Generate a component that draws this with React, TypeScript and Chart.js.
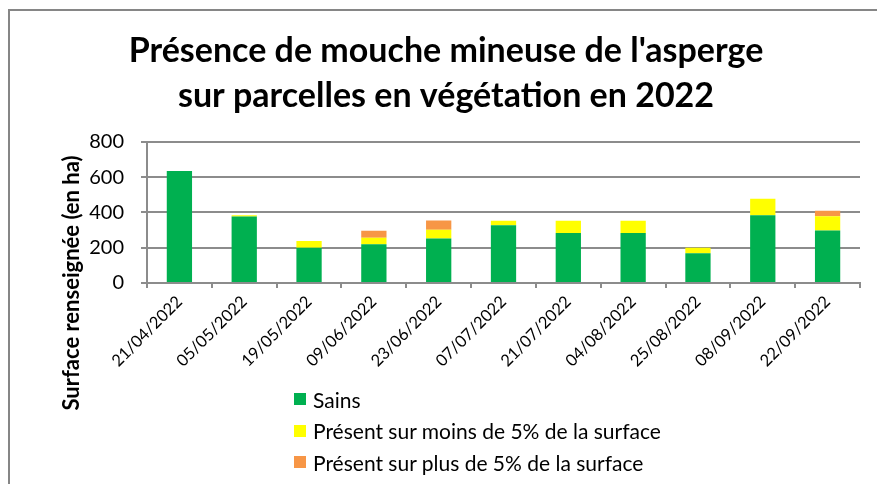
import React, { useEffect, useRef } from "react";
import { Chart, registerables } from "chart.js";
Chart.register(...registerables);

const categories = [
  "21/04/2022", "05/05/2022", "19/05/2022", "09/06/2022", "23/06/2022", "07/07/2022",
  "21/07/2022", "04/08/2022", "25/08/2022", "08/09/2022", "22/09/2022",
];
const sains = [635, 377, 200, 220, 252, 327, 283, 283, 169, 384, 297];
const moins5 = [0, 7, 38, 36, 50, 25, 69, 69, 31, 93, 81];
const plus5 = [0, 0, 0, 40, 52, 0, 0, 0, 0, 0, 31];
const yTicks = [0, 200, 400, 600, 800];
const seriesLabels = [
  "Sains",
  "Présent sur moins de 5% de la surface",
  "Présent sur plus de 5% de la surface",
];
const seriesColors = ["#00B050", "#FFFF00", "#F79646"];
const titleLines = ["Présence de mouche mineuse de l'asperge", "sur parcelles en végétation en 2022"];
const yTitle = "Surface renseignée (en ha)";

const FONT = "Lato, 'Open Sans', sans-serif";
const GRID = "#8c8c8c";

export default function App() {
  const ref = useRef<HTMLCanvasElement | null>(null);
  useEffect(() => {
    if (!ref.current) return;
    const yTitlePlugin = {
      id: "yTitle",
      afterDraw(chart: any) {
        const ctx = chart.ctx;
        ctx.save();
        ctx.translate(72, 283);
        ctx.rotate(-Math.PI / 2);
        ctx.font = `bold 22px ${FONT}`;
        ctx.fillStyle = "#000";
        ctx.textAlign = "center";
        ctx.textBaseline = "middle";
        ctx.fillText(yTitle, 0, 0);
        ctx.restore();
      },
    };
    const series = [sains, moins5, plus5];
    const chart = new Chart(ref.current, {
      type: "bar",
      data: {
        labels: categories,
        datasets: series.map((d, i) => ({
          label: seriesLabels[i],
          data: d,
          backgroundColor: seriesColors[i],
          borderWidth: 0,
          barPercentage: 0.39,
          categoryPercentage: 1,
        })),
      },
      options: {
        responsive: false,
        animation: false,
        layout: { padding: { left: 32, right: 17, top: 0, bottom: 0 } },
        plugins: {
          legend: { display: false },
          tooltip: { enabled: false },
          title: {
            display: true,
            text: titleLines,
            color: "#000",
            font: { family: FONT, size: 34, weight: "bold", lineHeight: 1.32 },
            padding: { top: 29, bottom: 23 },
          },
        },
        scales: {
          x: {
            stacked: true,
            grid: { drawOnChartArea: false, drawTicks: true, tickLength: 5, color: GRID, lineWidth: 2, offset: true },
            border: { color: GRID, width: 2 },
            ticks: {
              autoSkip: false,
              minRotation: 45,
              maxRotation: 45,
              color: "#000",
              padding: 4,
              font: { family: FONT, size: 16.5 },
            },
            afterFit: (s: any) => { s.height = 201; },
          },
          y: {
            stacked: true,
            min: 0,
            max: 800,
            afterBuildTicks: (s: any) => { s.ticks = yTicks.map((v) => ({ value: v })); },
            grid: { color: GRID, lineWidth: 2, tickLength: 6 },
            border: { color: GRID, width: 2 },
            ticks: { color: "#000", padding: 17, font: { family: FONT, size: 20 } },
            afterFit: (s: any) => { s.width = 115; },
          },
        },
      },
      plugins: [yTitlePlugin],
    } as any);
    return () => chart.destroy();
  }, []);

  return (
    <div style={{ position: "fixed", left: 0, top: 0, width: 877, height: 484, background: "#fff", overflow: "hidden" }}>
      <div style={{ position: "absolute", left: 8, top: 9, width: 1000, height: 1000, border: `2px solid #868686`, boxSizing: "border-box" }} />
      <canvas ref={ref} width={877} height={484} style={{ position: "absolute", left: 0, top: 0 }} />
      {seriesLabels.map((lab, i) => (
        <div key={lab} style={{ position: "absolute", left: 294, top: 399 + i * 31.5 - 13, height: 26, display: "flex", alignItems: "center", fontFamily: FONT, fontSize: 21, color: "#000", whiteSpace: "nowrap" }}>
          <span style={{ display: "inline-block", width: 12, height: 12, background: seriesColors[i], marginRight: 7 }} />
          {lab}
        </div>
      ))}
    </div>
  );
}
